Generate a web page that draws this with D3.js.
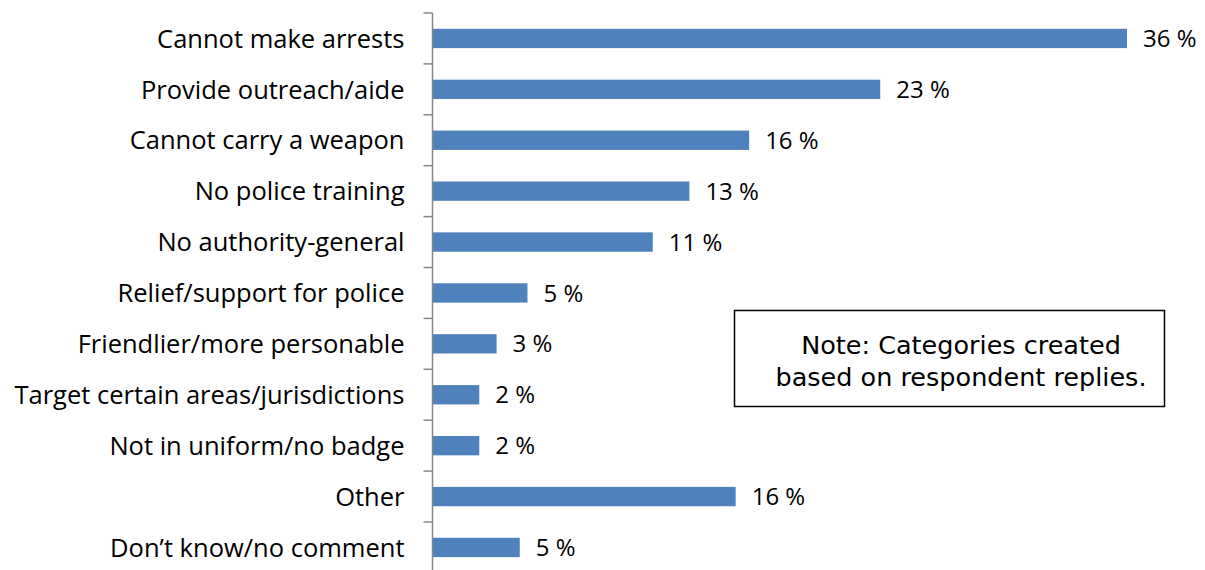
<!DOCTYPE html>
<html>
<head>
<meta charset="utf-8">
<script src="https://cdn.jsdelivr.net/npm/d3@7"></script>
<style>
  body { margin: 0; background: #fff; }
  svg { display: block; }
</style>
</head>
<body>
<svg width="1205" height="570"></svg>
<script>
// Data
const categories = [
  'Cannot make arrests',
  'Provide outreach/aide',
  'Cannot carry a weapon',
  'No police training',
  'No authority-general',
  'Relief/support for police',
  'Friendlier/more personable',
  'Target certain areas/jurisdictions',
  'Not in uniform/no badge',
  'Other',
  'Don\u2019t know/no comment'
]
const values = [36.0, 23.2, 16.4, 13.3, 11.4, 4.9, 3.3, 2.4, 2.4, 15.7, 4.5]
const noteLines = ['Note: Categories created', 'based on respondent replies.']

let svg = d3.select('svg')
const labelFont = '"Open Sans", Carlito, Calibri, sans-serif'

// Scales
const xScale = d3.scaleLinear().domain([0, 36]).range([433, 1127])
const yScale = d3
  .scaleBand()
  .domain(categories)
  .range([13, 13 + 50.9 * categories.length])
  .paddingInner(0.62)
  .paddingOuter(0.31)

// Bars
svg
  .append('g')
  .selectAll('rect')
  .data(values)
  .enter()
  .append('rect')
  .attr('x', xScale(0))
  .attr('y', (d, i) => yScale(categories[i]))
  .attr('width', d => xScale(d) - xScale(0))
  .attr('height', yScale.bandwidth())
  .attr('fill', '#4f81bd')

// Value labels
svg
  .append('g')
  .selectAll('text')
  .data(values)
  .enter()
  .append('text')
  .attr('x', d => xScale(d) + 16)
  .attr('y', (d, i) => yScale(categories[i]) + yScale.bandwidth() / 2)
  .attr('dy', '0.36em')
  .style('font-family', labelFont)
  .style('font-size', '24px')
  .attr('fill', '#000')
  .text(d => Math.round(d) + ' %')

// Category axis with ticks at band edges
const yAxis = svg.append('g').attr('transform', 'translate(432.5,0)')
const [y0, y1] = yScale.range()
yAxis
  .append('line')
  .attr('y1', y0)
  .attr('y2', y1)
  .attr('stroke', '#868686')
  .attr('stroke-width', 1.5)
yAxis
  .selectAll('line.tick')
  .data(d3.range(categories.length + 1))
  .enter()
  .append('line')
  .attr('class', 'tick')
  .attr('x1', -9)
  .attr('x2', 0)
  .attr('y1', i => y0 + i * yScale.step())
  .attr('y2', i => y0 + i * yScale.step())
  .attr('stroke', '#868686')
  .attr('stroke-width', 1.5)
yAxis
  .selectAll('text')
  .data(categories)
  .enter()
  .append('text')
  .attr('x', -28)
  .attr('y', d => yScale(d) + yScale.bandwidth() / 2)
  .attr('dy', '0.36em')
  .attr('text-anchor', 'end')
  .style('font-family', labelFont)
  .style('font-size', '25.5px')
  .attr('fill', '#000')
  .text(d => d)

// Note box
let note = svg.append('g')
note
  .append('rect')
  .attr('x', 734.5)
  .attr('y', 310.5)
  .attr('width', 430)
  .attr('height', 96)
  .attr('fill', '#fff')
  .attr('stroke', '#000')
  .attr('stroke-width', 1.5)
note
  .selectAll('text')
  .data(noteLines)
  .enter()
  .append('text')
  .attr('x', 961)
  .attr('y', (d, i) => 354 + i * 32)
  .attr('text-anchor', 'middle')
  .style('font-family', '"URW Gothic", "Century Gothic", "DejaVu Sans", sans-serif')
  .style('font-size', '25.5px')
  .attr('fill', '#000')
  .text(d => d)
</script>
</body>
</html>
